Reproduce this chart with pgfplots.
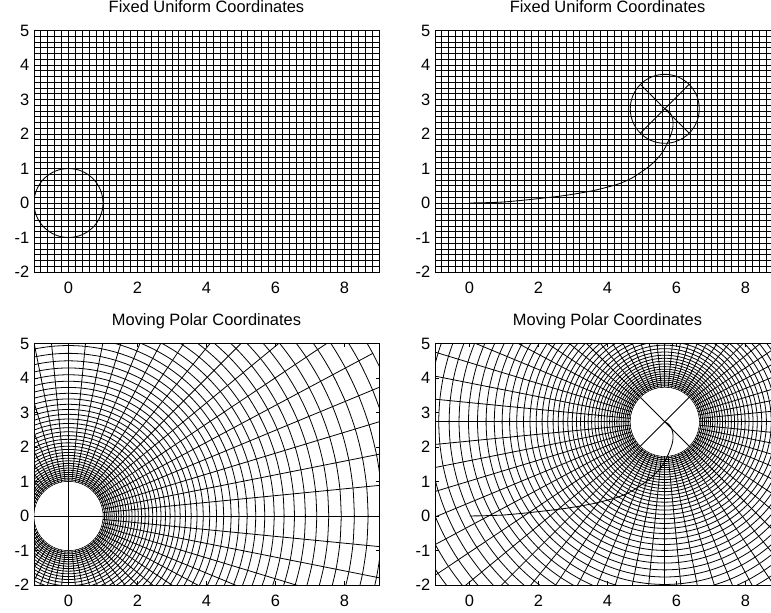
\documentclass[border=0pt]{standalone}
\usepackage{pgfplots}
\pgfplotsset{compat=1.18}
\usepackage{pgfplotstable}
\usepackage{fontspec}
\setmainfont{Liberation Sans}

% angles (degrees) used to trace the circles
\pgfplotstableread{
a k
0 0
5.625 1
11.25 2
16.875 3
22.5 4
28.125 5
33.75 6
39.375 7
45 8
50.625 9
56.25 10
61.875 11
67.5 12
73.125 13
78.75 14
84.375 15
90 16
95.625 17
101.25 18
106.875 19
112.5 20
118.125 21
123.75 22
129.375 23
135 24
140.625 25
146.25 26
151.875 27
157.5 28
163.125 29
168.75 30
174.375 31
180 32
185.625 33
191.25 34
196.875 35
202.5 36
208.125 37
213.75 38
219.375 39
225 40
230.625 41
236.25 42
241.875 43
247.5 44
253.125 45
258.75 46
264.375 47
270 48
275.625 49
281.25 50
286.875 51
292.5 52
298.125 53
303.75 54
309.375 55
315 56
320.625 57
326.25 58
331.875 59
337.5 60
343.125 61
348.75 62
354.375 63
360 64
}\angtab

% inner and outer radius of each radial grid line
\pgfplotstableread{
r k
1 0
10 1
}\rtab

% trajectory of the body centre
\pgfplotstableread{
x y
0 0
0.5 0.01
1.0 0.03
1.66 0.09
2.2 0.15
2.63 0.2
3.1 0.27
3.59 0.36
4.0 0.46
4.37 0.57
4.7 0.72
4.95 0.88
5.15 1.02
5.33 1.17
5.5 1.35
5.62 1.51
5.72 1.70
5.80 1.88
5.87 2.08
5.9 2.25
5.89 2.42
5.84 2.57
5.76 2.67
5.66 2.73
}\traj

\pgfplotsset{
 myaxis/.style={
  scale only axis, width=345bp, height=241.5bp,
  xmin=-1, xmax=9, ymin=-2, ymax=5,
  xtick={0,2,4,6,8}, ytick={-2,-1,0,1,2,3,4,5},
  tick align=inside, major tick length=3.5bp,
  every tick/.style={black, line width=0.8bp},
  axis line style={line width=0.9bp},
  /pgf/number format/assume math mode=true,
  tick label style={font=\fontsize{16.5}{19}\selectfont},
  xticklabel style={inner sep=0pt, yshift=-10bp},
  yticklabel style={inner sep=0pt, xshift=-4.5bp},
  title style={font=\fontsize{16.5}{19}\selectfont, at={(0.5,1)}, anchor=base, yshift=12.5bp},
  clip=true,
 },
 uniaxis/.style={
  myaxis,
  minor xtick={-1,-0.8,...,9},
  minor ytick={-2,-1.83333,-1.66667,-1.5,-1.33333,-1.16667,-1,-0.83333,-0.66667,-0.5,-0.33333,-0.16667,0,0.16667,0.33333,0.5,0.66667,0.83333,1,1.16667,1.33333,1.5,1.66667,1.83333,2,2.16667,2.33333,2.5,2.66667,2.83333,3,3.16667,3.33333,3.5,3.66667,3.83333,4,4.16667,4.33333,4.5,4.66667,4.83333,5},
  xminorgrids=true, yminorgrids=true,
  minor tick length=0pt,
  minor grid style={black, line width=0.85bp},
 },
 gridline/.style={black, line width=0.8bp},
 bodyline/.style={black, line width=0.85bp},
}

\begin{document}
\begin{tikzpicture}

% ---------- top left ----------
\begin{axis}[uniaxis, at={(34bp,341bp)}, anchor=south west, title={Fixed Uniform Coordinates}]
\addplot[bodyline, smooth] table[x expr={cos(\thisrow{a})}, y expr={sin(\thisrow{a})}] {\angtab};
\end{axis}

% ---------- top right ----------
\begin{axis}[uniaxis, at={(435bp,341bp)}, anchor=south west, title={Fixed Uniform Coordinates}]
\addplot[bodyline, smooth] table[x expr={5.66+cos(\thisrow{a})}, y expr={2.73+sin(\thisrow{a})}] {\angtab};
\addplot[bodyline] coordinates {(4.9529,2.0229) (6.3671,3.4371)};
\addplot[bodyline] coordinates {(4.9529,3.4371) (6.3671,2.0229)};
\addplot[bodyline, smooth] table[x=x, y=y] {\traj};
\end{axis}

% ---------- bottom left ----------
\begin{axis}[myaxis, at={(34bp,28bp)}, anchor=south west, title={Moving Polar Coordinates}]
\pgfplotsinvokeforeach{0,5.625,...,354.375}{
  \addplot[gridline] table[x expr={\thisrow{r}*cos(#1)}, y expr={\thisrow{r}*sin(#1)}] {\rtab};
}
\pgfplotsinvokeforeach{1,1.0481,1.0985,1.1514,1.2068,1.2649,1.3257,1.3895,1.4563,1.5264,1.5999,1.6768,1.7575,1.8421,1.9307,2.0236,2.1210,2.2230,2.3300,2.4421,2.5595,2.6827,2.8118,2.9471,3.0888,3.2375,3.3932,3.5565,3.7276,3.9069,4.0949,4.2919,4.4984,4.7149,4.9417,5.1795,5.4287,5.6899,5.9636,6.2506,6.5513,6.8665,7.1969,7.5431,7.9060,8.2864,8.6851,9.1030,9.5410,10}{
  \addplot[gridline, smooth] table[x expr={#1*cos(\thisrow{a})}, y expr={#1*sin(\thisrow{a})}] {\angtab};
}
\addplot[fill=white, draw=none, smooth] table[x expr={0.99*cos(\thisrow{a})}, y expr={0.99*sin(\thisrow{a})}] {\angtab};
\addplot[bodyline] coordinates {(-1,0) (1,0)};
\addplot[bodyline] coordinates {(0,-1) (0,1)};
\end{axis}

% ---------- bottom right ----------
\begin{axis}[myaxis, at={(435bp,28bp)}, anchor=south west, title={Moving Polar Coordinates}]
\pgfplotsinvokeforeach{0,5.625,...,354.375}{
  \addplot[gridline] table[x expr={5.66+\thisrow{r}*cos(#1)}, y expr={2.73+\thisrow{r}*sin(#1)}] {\rtab};
}
\pgfplotsinvokeforeach{1,1.0481,1.0985,1.1514,1.2068,1.2649,1.3257,1.3895,1.4563,1.5264,1.5999,1.6768,1.7575,1.8421,1.9307,2.0236,2.1210,2.2230,2.3300,2.4421,2.5595,2.6827,2.8118,2.9471,3.0888,3.2375,3.3932,3.5565,3.7276,3.9069,4.0949,4.2919,4.4984,4.7149,4.9417,5.1795,5.4287,5.6899,5.9636,6.2506,6.5513,6.8665,7.1969,7.5431,7.9060,8.2864,8.6851,9.1030,9.5410,10}{
  \addplot[gridline, smooth] table[x expr={5.66+#1*cos(\thisrow{a})}, y expr={2.73+#1*sin(\thisrow{a})}] {\angtab};
}
\addplot[fill=white, draw=none, smooth] table[x expr={5.66+0.99*cos(\thisrow{a})}, y expr={2.73+0.99*sin(\thisrow{a})}] {\angtab};
\addplot[bodyline] coordinates {(4.9529,2.0229) (6.3671,3.4371)};
\addplot[bodyline] coordinates {(4.9529,3.4371) (6.3671,2.0229)};
\addplot[bodyline, smooth] table[x=x, y=y] {\traj};
\end{axis}

\pgfresetboundingbox
\useasboundingbox (0,0) rectangle (771bp,613bp);
\end{tikzpicture}
\end{document}
